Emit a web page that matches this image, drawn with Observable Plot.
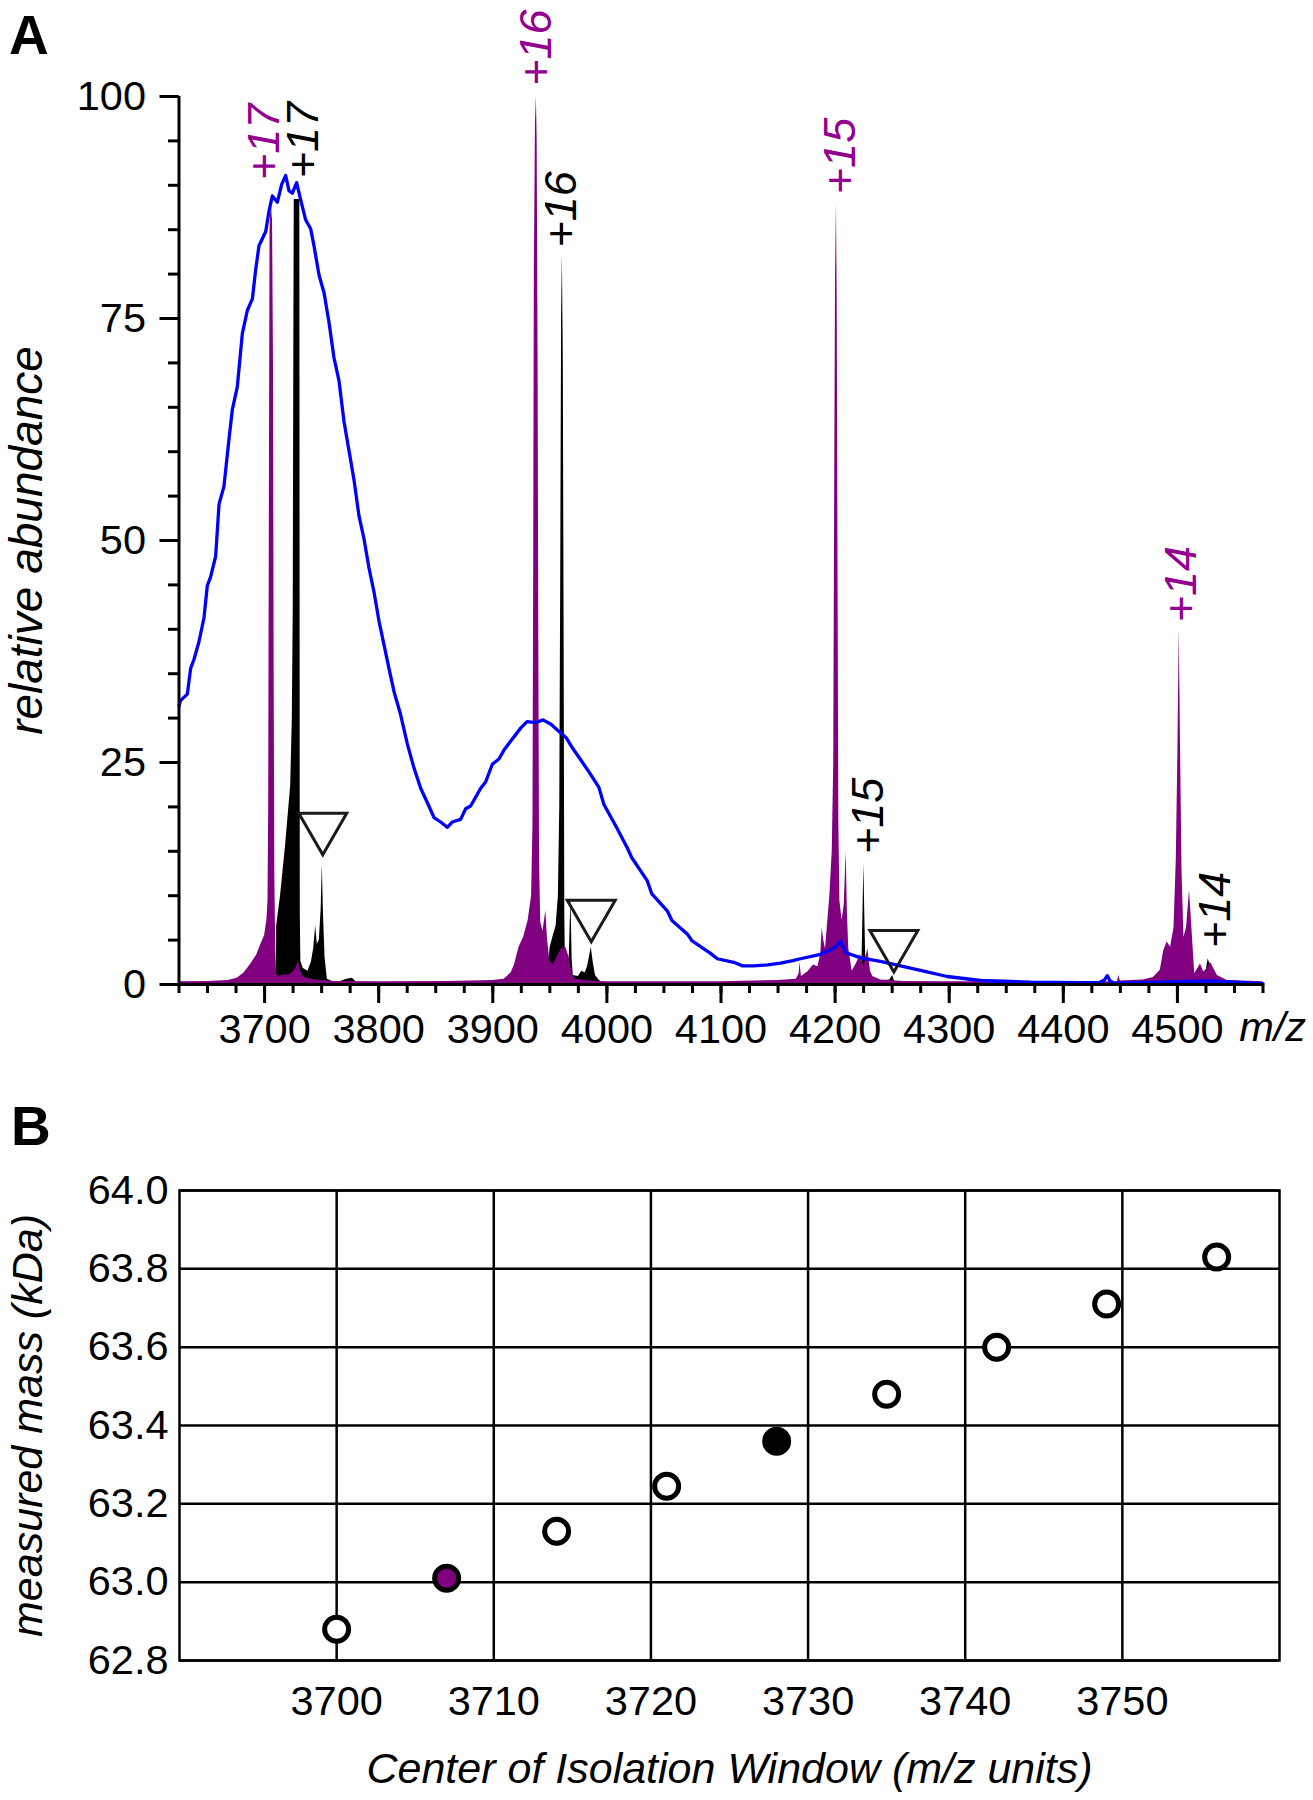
<!DOCTYPE html>
<html>
<head>
<meta charset="utf-8">
<script src="https://cdn.jsdelivr.net/npm/d3@7"></script>
<script src="https://cdn.jsdelivr.net/npm/@observablehq/plot@0.6"></script>
<style>
html, body { margin: 0; padding: 0; background: #fff; }
#chart { width: 1313px; }
#chart svg { display: block; }
</style>
</head>
<body>
<div id="chart"></div>
<script>
const FONT = '"Liberation Sans", Arial, Helvetica, sans-serif';
const PURPLE = "#800080";
const PURPLE_TEXT = "#93008f";
const BLUE = "#0000ff";

// ---------- Panel A data: [m/z, relative abundance] ----------
const blueTrace = [
[3625,31.4],[3626.5,32],[3632.3,32.7],[3635.2,35.6],[3638.1,36.6],[3642.5,38.6],[3646.9,41.3],[3649.8,44.9],
[3652.7,45.9],[3657.1,48.2],[3660.1,54.1],[3664.4,56.1],[3668.8,61.4],[3671.7,64.7],[3676.1,67.3],[3680.5,73.3],
[3684.9,75.9],[3689.3,77.2],[3692.2,80.5],[3695.1,83.2],[3701,84.8],[3703.9,87.1],[3706.8,88.8],[3711.2,88.1],
[3715,90.1],[3718.5,91.1],[3721.4,89.4],[3724.3,89.1],[3728.1,90.3],[3731.6,88.4],[3736,86.1],[3740.4,85.1],
[3743.3,83.2],[3747.7,79.9],[3752.1,77.9],[3756.4,74.6],[3760.8,70.6],[3765.2,68],[3769.6,63.4],[3774,60.1],
[3778.4,56.8],[3782.7,52.8],[3787.1,50.2],[3791.5,46.9],[3795.9,44.2],[3800.3,40.9],[3804.6,38.3],[3809,35.6],
[3813.4,33],[3819.2,30.4],[3825.1,27.1],[3830.9,24.4],[3836.8,22.1],[3842.6,20.5],[3848.5,18.8],[3854.3,18.3],
[3860.1,17.7],[3864.5,18.3],[3871.8,18.6],[3876.2,19.8],[3880.6,20.1],[3889.4,22.1],[3893.7,22.8],[3899.6,24.8],
[3905.4,25.4],[3909.8,26.4],[3915.6,27.4],[3924.6,28.9],[3930,29.6],[3937.8,29.5],[3944,29.8],[3951,29.3],
[3957,28.6],[3964.3,27.8],[3970,26.6],[3977.6,25.2],[3985,23.8],[3993,22.2],[3997.3,20.3],[4008.4,17.7],
[4017.8,15.4],[4021.7,14.3],[4035.3,11.7],[4039.4,10.2],[4052.9,8.3],[4057,7.2],[4070.4,5.7],[4074.7,4.9],
[4090.8,3.5],[4096.8,2.9],[4111.2,2.5],[4118.9,2.1],[4128.8,2.1],[4141,2.2],[4152,2.4],[4163,2.7],
[4169.6,2.9],[4187.2,3.4],[4197.4,4.0],[4201,4.3],[4204.8,4.9],[4209.2,3.6],[4222.3,3.0],[4239.8,2.6],
[4257.3,2.1],[4274.8,1.6],[4298.2,0.9],[4327.5,0.45],[4371.3,0.26],[4415.1,0.2],[4432,0.25],[4436,0.5],
[4438.5,1.0],[4441,0.4],[4445,0.15],[4485,0.26],[4529.5,0.4],[4575,0.1]
];

const purpleSpectrum = [
[3625,0.3],[3650,0.35],[3668,0.45],[3676,0.7],[3682,1.3],[3688,2.3],[3693,3.3],[3697,4.6],[3700,5.5],[3702,7.2],
[3703,9.5],[3703.6,20],[3704.2,55],[3704.8,85],[3705.8,88],[3707,86],[3707.8,70],[3708.4,35],[3709,12],[3709.8,4],
[3710.5,1.2],[3713,0.9],[3717,1.1],[3721,1.0],[3725,1.4],[3728,2.0],[3729.5,2.7],[3731,1.8],[3733,1.0],[3737,0.7],
[3745,0.5],[3760,0.35],[3800,0.3],[3860,0.35],[3900,0.45],[3910,0.6],[3916,1.3],[3919,2.2],[3923,4.2],[3927,5.3],
[3931,7.2],[3934,10],[3935.2,18],[3935.8,45],[3936.4,80],[3937.4,97],[3938.2,100],[3938.9,95],[3939.7,70],[3940.3,40],
[3941,14],[3942,7],[3944,6],[3946.5,8.3],[3948,5],[3950,2.7],[3953,2.2],[3956,3],[3960,4],[3964,4.2],
[3967,3],[3970,1],[3973,0.6],[3985,0.4],[4000,0.3],[4100,0.3],[4150,0.45],[4166,0.6],[4168.5,1.2],[4169.2,2.5],
[4170.5,0.9],[4176,1.4],[4181,2.2],[4185,2.0],[4187.5,3.5],[4188.7,6.4],[4190,5],[4191.6,4.0],[4193.5,7],[4195.4,10],
[4197.5,15],[4198.8,25],[4199.6,55],[4200.4,80],[4201.2,88],[4201.9,75],[4202.6,45],[4203.3,18],[4204.2,9.4],[4206.2,7.2],
[4208,9],[4209.7,15],[4210.8,8],[4212,4],[4215,1.5],[4218.8,2.4],[4222.3,3.4],[4225,2],[4228.7,4.0],[4231,1.5],
[4233,0.9],[4240,0.5],[4260,0.35],[4300,0.3],[4440,0.3],[4447.5,0.3],[4448.7,1.0],[4450,0.4],[4470,0.5],[4479,0.8],
[4485,1.6],[4488,3.8],[4491,4.8],[4494,4.2],[4497,6.4],[4499,14],[4500.4,26],[4501.6,40],[4502.8,26],[4504,13],
[4505.7,5.3],[4508,6.4],[4510.6,10.6],[4513,5.7],[4515.2,1.2],[4520.2,2.3],[4523.1,1.4],[4526,1.8],[4529,2.5],[4535,1.0],
[4543.6,0.45],[4575,0.3]
];

const blackSpectrum = [
[3625,0],[3710.3,0],[3710.6,6.6],[3714,10],[3718.5,15.8],[3722.9,22.4],[3724.3,30],[3725.1,42],[3725.6,70],[3726.0,88.4],
[3730.9,88.4],[3731.1,50],[3731.3,8],[3731.8,2.6],[3734,1.8],[3738,1.5],[3741,2.5],[3743,4],[3744.8,6.6],[3746.2,4.5],
[3748,5],[3749.6,8.5],[3750.6,13.5],[3751.6,8],[3753,3],[3755,0.6],[3760,0.3],[3766,0.3],[3772,0.6],[3777,0.7],
[3781,0.2],[3785,0],[3948,0],[3950.2,4.1],[3953,5.5],[3955.5,6.6],[3957.5,10],[3958.7,20],[3959.5,45],[3960.3,75],
[3961,82.3],[3961.8,70],[3962.5,40],[3963.1,8],[3963.6,2.7],[3965,2],[3967,3],[3968.5,9.8],[3969.5,3],[3970.5,1],
[3975,0.9],[3978,1.5],[3981,1.3],[3983,2],[3984.6,3],[3986.3,4.2],[3988,2.5],[3990,1],[3993,0.5],[3996,0.2],
[4000,0],[4222,0],[4223.5,2],[4224.4,8],[4225.2,13.6],[4226,8],[4227,2],[4229,1],[4232,0.6],[4240,0.4],
[4248,0.5],[4250.5,1.0],[4252,0.4],[4256,0.2],[4260,0],[4520,0],[4524.7,1.2],[4527,2.9],[4528.2,2.4],[4530.5,1.8],
[4534,0.8],[4537.8,0.45],[4545,0],[4575,0]
];

// charge-state labels (position of text start)
const chargeText   = ["+17", "+17", "+16", "+16", "+15", "+15", "+14", "+14"];
const chargeSeries = ["purple", "black", "purple", "black", "purple", "black", "purple", "black"];
const chargeMz     = [3699.9, 3734.1, 3938.8, 3960.2, 4205.2, 4229.3, 4503.3, 4533.4];
const chargeAb     = [90.6, 90.8, 101.2, 83.0, 89.0, 14.7, 40.8, 4.1];

// open triangle markers (apex position)
const markerMz = [3751.0, 3986.3, 4251.5];
const markerAb = [14.6, 4.8, 1.4];

// axis ticks
const aTicksXMajor = [3700, 3800, 3900, 4000, 4100, 4200, 4300, 4400, 4500];
const aTicksXMinor = d3.range(3625, 4576, 25);
const aTicksYMajor = [0, 25, 50, 75, 100];
const aTicksYMinor = d3.range(0, 101, 5);

// ---------- Panel B data ----------
const windowCenter = [3700, 3707, 3714, 3721, 3728, 3735, 3742, 3749, 3756];
const measuredMass = [62.88, 63.01, 63.13, 63.245, 63.36, 63.48, 63.60, 63.71, 63.83];
const pointKind    = ["open", "purple", "open", "open", "black", "open", "open", "open", "open"];
const bTicksX = [3700, 3710, 3720, 3730, 3740, 3750];
const bTicksY = [62.8, 63.0, 63.2, 63.4, 63.6, 63.8, 64.0];

// ---------- build tables ----------
const chargeLabels = chargeText.map((t, i) => ({text: t, series: chargeSeries[i], mz: chargeMz[i], ab: chargeAb[i]}));
const markers = markerMz.map((m, i) => ({mz: m, ab: markerAb[i]}));
const massPoints = windowCenter.map((c, i) => ({center: c, mass: measuredMass[i], kind: pointKind[i]}));
const kindFill = {open: "#ffffff", purple: PURPLE, black: "#000000"};

const plotA = Plot.plot({
  width: 1313,
  height: 1070,
  marginLeft: 178.5,
  marginRight: 50.5,
  marginTop: 96,
  marginBottom: 86,
  x: {domain: [3625, 4575], label: null},
  y: {domain: [0, 100], label: null},
  style: {fontFamily: FONT, fontSize: "41.5px", background: "#fff", color: "#000", overflow: "visible"},
  marks: [
    Plot.areaY(blackSpectrum, {x: d => d[0], y: d => d[1], fill: "#000"}),
    Plot.areaY(purpleSpectrum, {x: d => d[0], y: d => d[1], fill: PURPLE}),
    Plot.line(blueTrace, {x: d => d[0], y: d => d[1], stroke: BLUE, strokeWidth: 3.3}),
    Plot.dot(markers, {x: "mz", y: "ab", symbol: "triangle", r: 17.8, rotate: 180, dy: -27.7,
      fill: "none", stroke: "#1a1a1a", strokeWidth: 3}),
    Plot.text(chargeLabels, {x: "mz", y: "ab", text: "text", rotate: -90, textAnchor: "start",
      fontStyle: "italic", fontSize: 45, fill: d => d.series === "purple" ? PURPLE_TEXT : "#000"}),
    Plot.ruleY([0], {stroke: "#000", strokeWidth: 3}),
    Plot.ruleX([3625], {y1: 0, y2: 100, stroke: "#000", strokeWidth: 3}),
    Plot.axisY({ticks: aTicksYMinor, tickSize: 10.5, tickFormat: () => "", strokeWidth: 3, label: null}),
    Plot.axisY({ticks: aTicksYMajor, tickSize: 19, tickPadding: 14, tickFormat: d3.format("d"),
      strokeWidth: 3, fontSize: 41.5, label: null}),
    Plot.axisX({ticks: aTicksXMinor, tickSize: 9, tickFormat: () => "", strokeWidth: 3, label: null}),
    Plot.axisX({ticks: aTicksXMajor, tickSize: 19, tickPadding: 10, tickFormat: d3.format("d"),
      strokeWidth: 3, fontSize: 41.5, label: null}),
    Plot.text(["m/z"], {frameAnchor: "bottom-right", textAnchor: "end", lineAnchor: "middle", dx: 43, dy: 43.5,
      fontStyle: "italic", fontSize: 41.5}),
    Plot.text(["relative abundance"], {frameAnchor: "left", textAnchor: "middle", lineAnchor: "middle",
      dx: -151.5, rotate: -90, fontStyle: "italic", fontSize: 46}),
    Plot.text(["A"], {frameAnchor: "top-left", dx: -170, dy: -42.4, textAnchor: "start", lineAnchor: "bottom",
      fontWeight: "bold", fontSize: 55})
  ]
});

const plotB = Plot.plot({
  width: 1313,
  height: 730,
  marginLeft: 179,
  marginRight: 34,
  marginTop: 120,
  marginBottom: 140,
  x: {domain: [3690, 3760], label: null},
  y: {domain: [62.8, 64.0], label: null},
  style: {fontFamily: FONT, fontSize: "41.5px", background: "#fff", color: "#000", overflow: "visible"},
  marks: [
    Plot.ruleX(bTicksX, {stroke: "#000", strokeWidth: 2.5}),
    Plot.ruleY(bTicksY, {stroke: "#000", strokeWidth: 2.5}),
    Plot.frame({stroke: "#000", strokeWidth: 2.5}),
    Plot.axisX({ticks: bTicksX, tickSize: 0, tickPadding: 25, tickFormat: d3.format("d"), fontSize: 41.5, label: null}),
    Plot.axisY({ticks: bTicksY, tickSize: 0, tickPadding: 11, tickFormat: d3.format(".1f"), fontSize: 41.5, label: null}),
    Plot.dot(massPoints, {x: "center", y: "mass", r: 12, fill: d => kindFill[d.kind], stroke: "#000", strokeWidth: 5}),
    Plot.text(["Center of Isolation Window (m/z units)"], {frameAnchor: "bottom", textAnchor: "middle",
      lineAnchor: "middle", dy: 109, fontStyle: "italic", fontSize: 43}),
    Plot.text(["measured mass (kDa)"], {frameAnchor: "left", textAnchor: "middle", lineAnchor: "middle",
      dx: -151, rotate: -90, fontStyle: "italic", fontSize: 43}),
    Plot.text(["B"], {frameAnchor: "top-left", dx: -168.5, dy: -45.7, textAnchor: "start", lineAnchor: "bottom",
      fontWeight: "bold", fontSize: 55})
  ]
});

const chart = document.getElementById("chart");
chart.appendChild(plotA);
chart.appendChild(plotB);
</script>
</body>
</html>
